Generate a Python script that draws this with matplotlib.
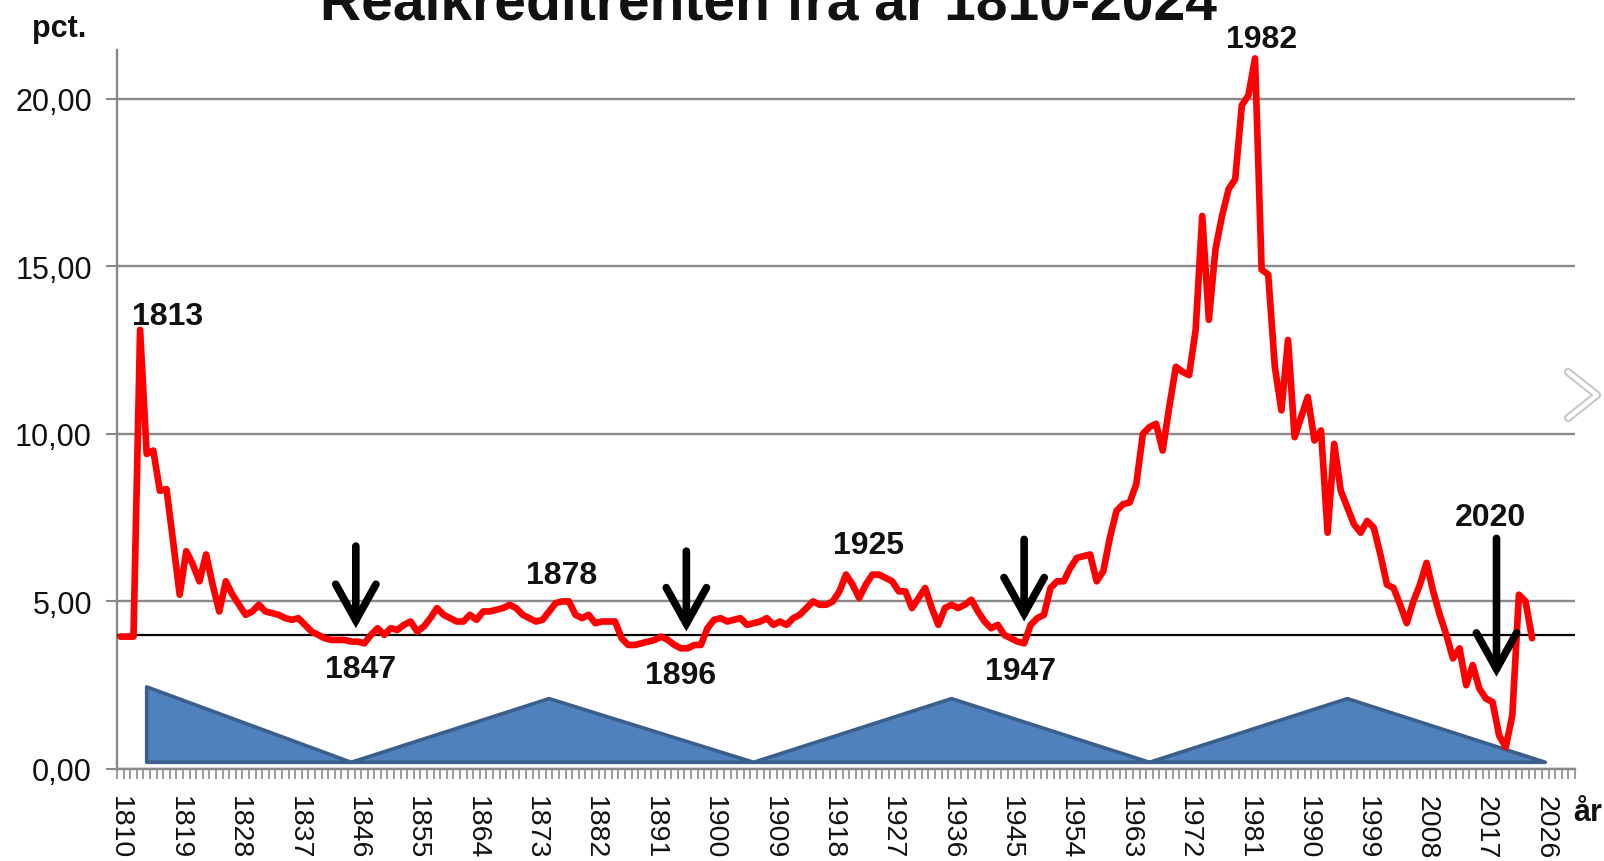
import matplotlib
matplotlib.use('Agg')
import matplotlib.pyplot as plt
from matplotlib.ticker import FuncFormatter, FixedLocator
from matplotlib.patches import Polygon
from matplotlib.lines import Line2D

plt.rcParams['font.family'] = ['Liberation Sans', 'DejaVu Sans']

# ---------------- data ----------------
years = list(range(1810, 2025))
rates = [
    3.95, 3.95, 3.95, 13.1, 9.4, 9.5, 8.3, 8.35, 6.8, 5.2,          # 1810-1819
    6.5, 6.1, 5.6, 6.4, 5.5, 4.7, 5.6, 5.2, 4.9, 4.6,               # 1820-1829
    4.7, 4.9, 4.7, 4.65, 4.6, 4.5, 4.45, 4.5, 4.3, 4.1,             # 1830-1839
    4.0, 3.9, 3.85, 3.85, 3.85, 3.8, 3.8, 3.75, 4.0, 4.2,           # 1840-1849
    4.0, 4.2, 4.15, 4.3, 4.4, 4.1, 4.25, 4.5, 4.8, 4.6,             # 1850-1859
    4.5, 4.4, 4.4, 4.6, 4.45, 4.7, 4.7, 4.75, 4.8, 4.9,             # 1860-1869
    4.8, 4.6, 4.5, 4.4, 4.45, 4.7, 4.95, 5.0, 5.0, 4.6,             # 1870-1879
    4.5, 4.6, 4.35, 4.4, 4.4, 4.4, 3.9, 3.7, 3.7, 3.75,             # 1880-1889
    3.8, 3.85, 3.95, 3.85, 3.7, 3.6, 3.6, 3.7, 3.7, 4.2,            # 1890-1899
    4.45, 4.5, 4.4, 4.45, 4.5, 4.3, 4.35, 4.4, 4.5, 4.3,            # 1900-1909
    4.4, 4.3, 4.5, 4.6, 4.8, 5.0, 4.9, 4.9, 5.0, 5.3,               # 1910-1919
    5.8, 5.5, 5.1, 5.5, 5.8, 5.8, 5.7, 5.6, 5.3, 5.3,               # 1920-1929
    4.8, 5.1, 5.4, 4.8, 4.3, 4.8, 4.9, 4.8, 4.9, 5.05,              # 1930-1939
    4.7, 4.4, 4.2, 4.3, 4.0, 3.9, 3.8, 3.75, 4.3, 4.5,              # 1940-1949
    4.6, 5.4, 5.6, 5.6, 6.0, 6.3, 6.35, 6.4, 5.6, 5.9,              # 1950-1959
    6.9, 7.7, 7.9, 7.95, 8.5, 10.0, 10.2, 10.3, 9.5, 10.8,          # 1960-1969
    12.0, 11.85, 11.75, 13.1, 16.5, 13.4, 15.5, 16.5, 17.3, 17.6,   # 1970-1979
    19.8, 20.1, 21.2, 14.9, 14.75, 12.0, 10.7, 12.8, 9.9, 10.5,     # 1980-1989
    11.1, 9.8, 10.1, 7.05, 9.7, 8.3, 7.8, 7.3, 7.05, 7.4,           # 1990-1999
    7.2, 6.4, 5.5, 5.4, 4.9, 4.35, 5.0, 5.5, 6.15, 5.3,             # 2000-2009
    4.6, 4.0, 3.3, 3.6, 2.5, 3.1, 2.4, 2.1, 2.0, 1.0,               # 2010-2019
    0.65, 1.6, 5.2, 5.0, 3.9,                                       # 2020-2024
]
ref_level = 4.0

y_ticks = [0, 5, 10, 15, 20]
x_tick_years = list(range(1810, 2027, 9))

# long waves (triangles)
wave_x = [[1814, 1814, 1845], [1845, 1875, 1906], [1906, 1936, 1966], [1966, 1996, 2026]]
wave_y = [[0.2, 2.45, 0.2], [0.2, 2.1, 0.2], [0.2, 2.1, 0.2], [0.2, 2.1, 0.2]]

# year labels
label_text = ['1813', '1847', '1878', '1896', '1925', '1947', '1982', '2020']
label_x = [1817.1, 1846.4, 1876.9, 1894.9, 1923.4, 1946.4, 1983.0, 2017.7]
label_y = [13.5, 2.98, 5.79, 2.8, 6.68, 2.92, 21.78, 7.53]

# arrows
arrow_x = [1845.7, 1895.8, 1947.0, 2018.6]
arrow_top = [6.65, 6.5, 6.85, 6.88]
arrow_tip = [4.2, 4.1, 4.4, 2.75]

title = 'Realkreditrenten fra år 1810-2024'

# ---------------- figure ----------------
W, H = 1604, 862
fig = plt.figure(figsize=(W / 100, H / 100), dpi=100)
ax = fig.add_axes([117 / W, 1 - 770 / H, (1575 - 117) / W, (770 - 51) / H])
ax.set_xlim(1809.5, 2030.5)
ax.set_ylim(0, 21.45)

grid_col = '#8a8a8a'
for s in ['top', 'right']:
    ax.spines[s].set_visible(False)
for s in ['left', 'bottom']:
    ax.spines[s].set_color(grid_col)
    ax.spines[s].set_linewidth(1.7)

ax.set_yticks(y_ticks)
ax.yaxis.set_major_formatter(FuncFormatter(lambda v, p: f'{v:.2f}'.replace('.', ',')))
ax.yaxis.grid(True, color=grid_col, lw=1.7, zorder=1)
ax.set_axisbelow(True)
ax.tick_params(axis='y', length=8, width=1.5, color=grid_col, pad=10, labelsize=22, labelcolor='#111111')

ax.set_xticks(x_tick_years)
ax.set_xticklabels([str(y) for y in x_tick_years], rotation=-90, ha='center', va='top')
ax.xaxis.set_minor_locator(FixedLocator([y - 0.5 for y in range(1810, 2032)]))
ax.tick_params(axis='x', which='major', length=0, pad=19, labelsize=20.5, labelcolor='#111111')
ax.tick_params(axis='x', which='minor', length=7, width=1.2, color=grid_col)

# triangles
for xs, ys in zip(wave_x, wave_y):
    ax.add_patch(Polygon(list(zip(xs, ys)), closed=True, facecolor='#4f81bd',
                         edgecolor='#3a5f8c', lw=2.6, joinstyle='round', zorder=2))

# reference line
ax.axhline(ref_level, color='black', lw=1.6, zorder=3)

# rate line
ax.plot(years, rates, color='#ff0000', lw=4.8, solid_joinstyle='round',
        solid_capstyle='round', zorder=5, clip_on=False)

# labels
for t, x, y in zip(label_text, label_x, label_y):
    ax.text(x, y, t, ha='center', va='center', fontsize=23, fontweight='bold',
            color='#111111', zorder=6)

# arrows
for x, yt, yb in zip(arrow_x, arrow_top, arrow_tip):
    ax.annotate('', xy=(x, yb), xytext=(x, yt),
                arrowprops=dict(arrowstyle='->,head_length=2.6,head_width=1.45',
                                lw=5.5, color='black', mutation_scale=10,
                                shrinkA=0, shrinkB=0, joinstyle='miter'),
                zorder=7)

# titles / axis texts
fig.text(768 / W, 1 - 19 / H, title, ha='center', va='baseline', fontsize=41,
         fontweight='bold', color='#111111')
fig.text(59 / W, 1 - 37 / H, 'pct.', ha='center', va='baseline', fontsize=22,
         fontweight='bold', color='#111111')
fig.text(1588 / W, 1 - 813 / H, 'år', ha='center', va='center', fontsize=22,
         fontweight='bold', color='#111111')

# carousel chevron
cx = [1568 / W, 1597 / W, 1568 / W]
cy = [1 - 373 / H, 1 - 396 / H, 1 - 419 / H]
fig.add_artist(Line2D(cx, cy, color='#c8c8c8', lw=6, solid_joinstyle='round',
                      solid_capstyle='round'))
fig.add_artist(Line2D(cx, cy, color='white', lw=3, solid_joinstyle='round',
                      solid_capstyle='round'))

fig.savefig('out.png', dpi=100, facecolor='white')
